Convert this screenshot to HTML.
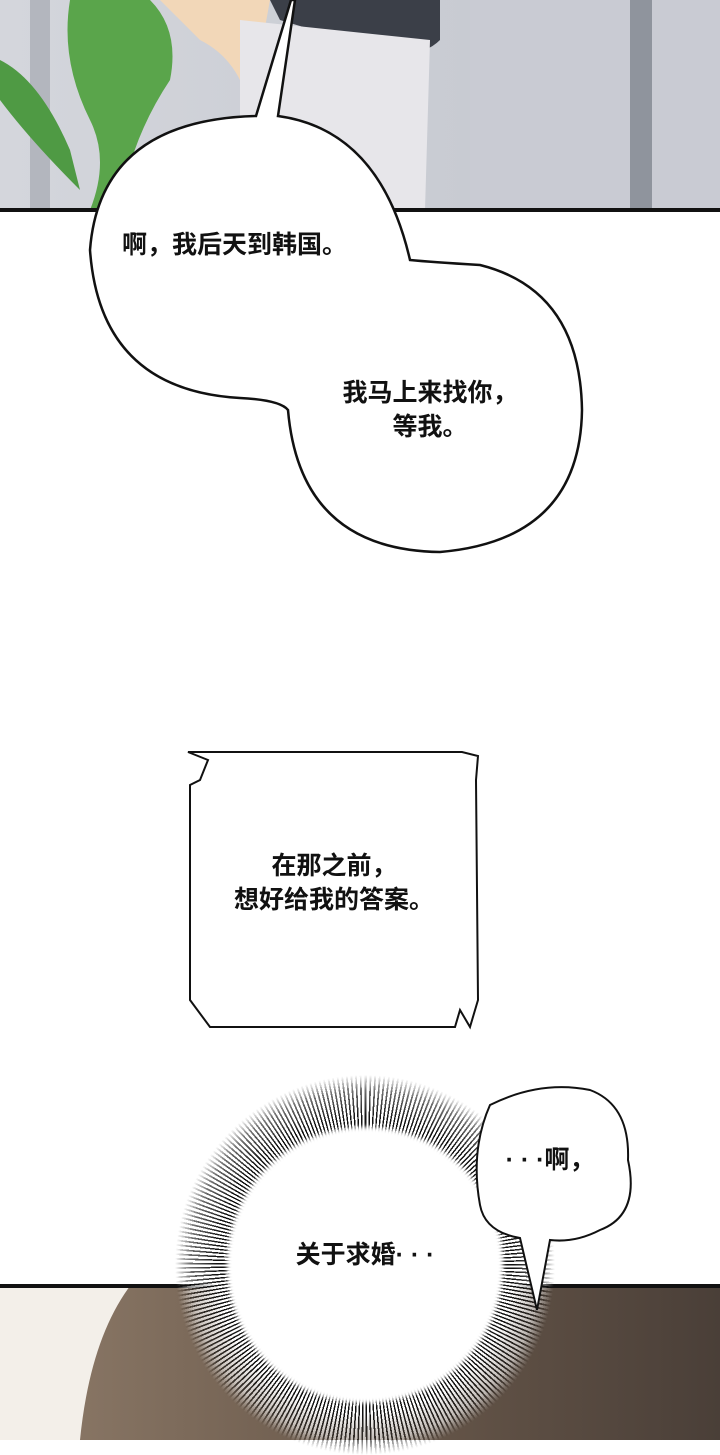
<!DOCTYPE html>
<html><head><meta charset="utf-8"><style>
html,body{margin:0;padding:0;background:#fff}
body{width:720px;height:1440px;position:relative;overflow:hidden;font-family:"Liberation Sans","Noto Sans CJK SC",sans-serif}
.t{position:absolute;font-size:25px;font-weight:bold;color:#111;text-align:center;line-height:34px;white-space:nowrap}
#burst{position:absolute;left:175px;top:1075px;width:380px;height:380px;border-radius:50%;
background:repeating-conic-gradient(from 0deg at 50% 50%,#111 0deg 0.55deg,#fff 0.55deg 1.4deg);
-webkit-mask:radial-gradient(circle closest-side,#000 78%,rgba(0,0,0,0.6) 92%,rgba(0,0,0,0) 100%);mask:radial-gradient(circle closest-side,#000 78%,rgba(0,0,0,0.6) 92%,rgba(0,0,0,0) 100%)}
#inner{position:absolute;left:227px;top:1127px;width:276px;height:276px;border-radius:50%;background:#fff;filter:blur(2px)}
</style></head><body>
<svg width="720" height="1440" style="position:absolute;left:0;top:0">
<defs>
<linearGradient id="bg" x1="0" x2="1"><stop offset="0" stop-color="#d4d6dc"/><stop offset="1" stop-color="#c2c5cd"/></linearGradient>
<linearGradient id="hair" x1="0" x2="1"><stop offset="0" stop-color="#8f7c6a"/><stop offset="0.5" stop-color="#6b5a4c"/><stop offset="1" stop-color="#4a3f38"/></linearGradient>
</defs>
<rect x="0" y="0" width="720" height="210" fill="url(#bg)"/>
<rect x="470" y="0" width="250" height="210" fill="#c9cbd3"/>
<rect x="630" y="0" width="22" height="210" fill="#8f949d"/>
<rect x="30" y="0" width="20" height="210" fill="#b3b6be"/>
<path d="M70 0 Q60 60 90 120 Q110 160 90 210 L120 210 Q130 140 170 80 Q180 30 150 0Z" fill="#5aa54b"/>
<path d="M0 60 Q40 80 70 150 L80 190 Q30 140 0 100Z" fill="#4f9a44"/>
<path d="M160 0 L270 0 L250 110 Q240 60 200 40Z" fill="#f2d7b8"/>
<path d="M270 0 L440 0 L440 40 Q420 60 380 50 L280 20Z" fill="#3b3f48"/>
<path d="M240 20 L430 40 L425 210 L240 210Z" fill="#e7e6ea"/>
<rect x="0" y="208" width="720" height="4" fill="#111"/>
<rect x="0" y="1286" width="720" height="154" fill="url(#hair)"/>
<path d="M0 1286 L130 1286 Q90 1340 80 1440 L0 1440Z" fill="#f3efe9"/>
<rect x="0" y="1284" width="720" height="4" fill="#111"/>
<path d="M256 116 L291 0 L295 0 L278 116 Q380 130 410 260 Q430 262 480 265 Q580 290 582 410 Q580 540 440 552 Q300 550 288 410 Q280 400 240 398 Q100 390 90 250 Q100 120 256 116Z" fill="#fff" stroke="#111" stroke-width="2.5"/>
<path d="M188 752 L462 752 L478 756 L476 780 L478 1000 L470 1027 L460 1010 L455 1027 L210 1027 L190 1000 L190 785 L200 780 L208 760 Z" fill="#fff" stroke="#111" stroke-width="2"/>
</svg>
<div id="burst"></div>
<div id="inner"></div>
<svg width="720" height="1440" style="position:absolute;left:0;top:0">
<path d="M490 1105 Q540 1080 590 1090 Q630 1105 628 1160 Q640 1215 600 1230 Q575 1243 550 1240 L537 1310 L520 1238 Q485 1232 480 1205 Q470 1150 490 1105Z" fill="#fff" stroke="#111" stroke-width="2"/>
</svg>
<div class="t" style="left:122px;top:228px;text-align:left">啊，我后天到韩国。</div>
<div class="t" style="left:300px;top:376px;width:260px">我马上来找你，<br>等我。</div>
<div class="t" style="left:190px;top:849px;width:288px">在那之前，<br>想好给我的答案。</div>
<div class="t" style="left:480px;top:1143px;width:140px">· · ·啊，</div>
<div class="t" style="left:270px;top:1238px;width:190px">关于求婚· · ·</div>
</body></html>
